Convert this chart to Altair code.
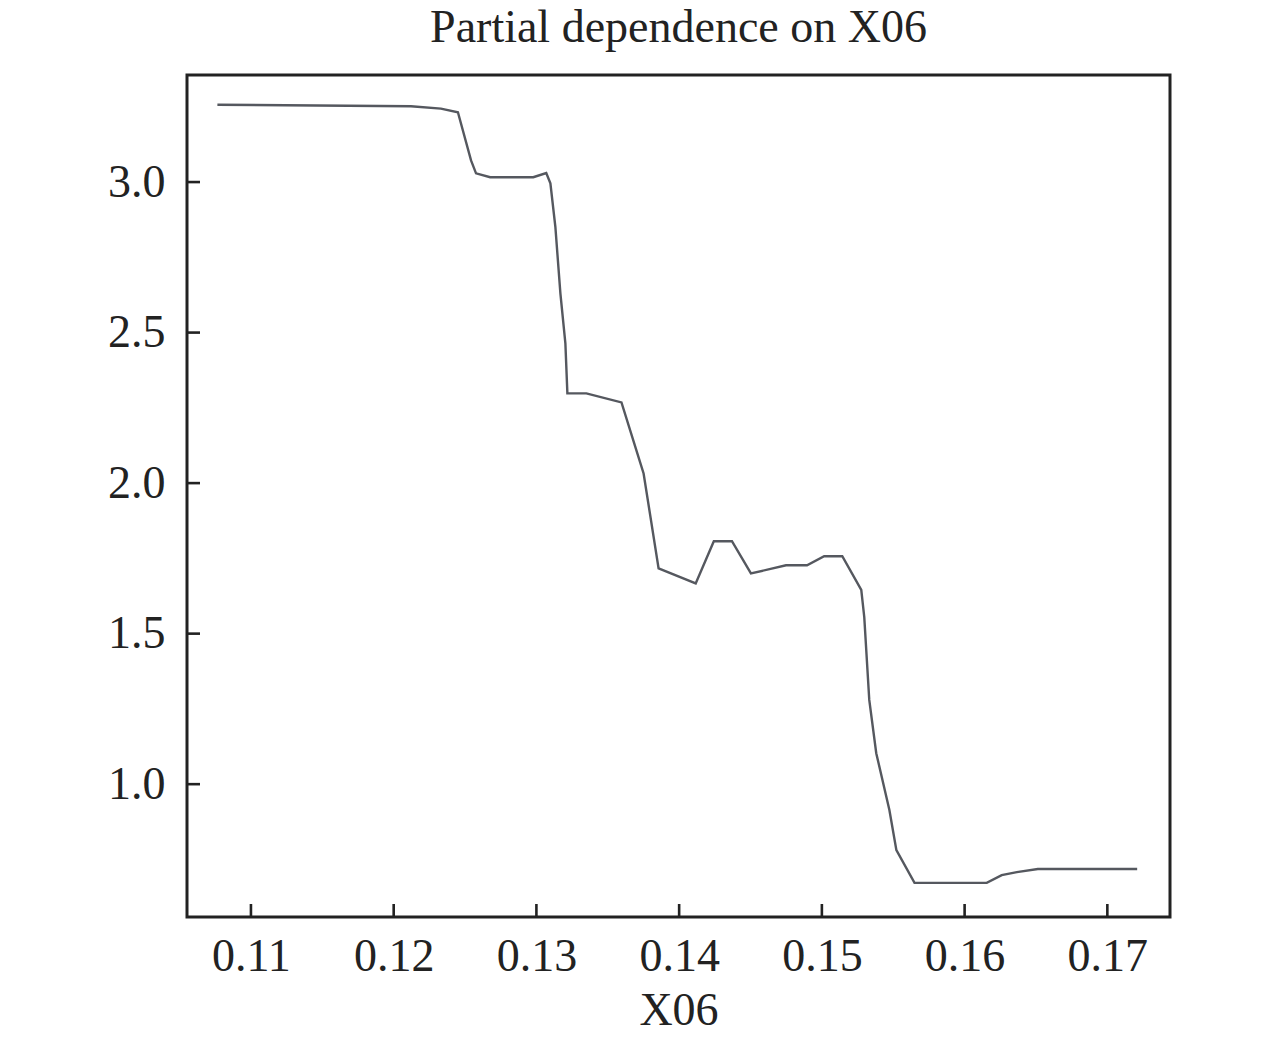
import altair as alt
import pandas as pd

x06 = [0.10765, 0.12121, 0.12331, 0.12450, 0.12542, 0.12577, 0.12676, 0.12978,
       0.13069, 0.13098, 0.13133, 0.13168, 0.13203, 0.13217, 0.13350, 0.13596,
       0.13694, 0.13751, 0.13856, 0.14116, 0.14243, 0.14370, 0.14503, 0.14749,
       0.14896, 0.15016, 0.15143, 0.15276, 0.15297, 0.15332, 0.15381, 0.15473,
       0.15522, 0.15649, 0.16155, 0.16260, 0.16366, 0.16513, 0.17209]
pdep = [3.257, 3.252, 3.244, 3.232, 3.072, 3.029, 3.016, 3.016,
        3.030, 2.996, 2.850, 2.630, 2.464, 2.298, 2.298, 2.268,
        2.119, 2.032, 1.717, 1.667, 1.807, 1.807, 1.700, 1.727,
        1.727, 1.757, 1.757, 1.645, 1.555, 1.280, 1.103, 0.914,
        0.781, 0.672, 0.672, 0.698, 0.708, 0.718, 0.718]

x_ticks = [0.11, 0.12, 0.13, 0.14, 0.15, 0.16, 0.17]
y_ticks = [1.0, 1.5, 2.0, 2.5, 3.0]

W, H = 983, 842
FONT = "Liberation Serif"
INK = "#222222"

df = pd.DataFrame({"x": x06, "y": pdep})
xt = pd.DataFrame({"x": x_ticks})
yt = pd.DataFrame({"y": y_ticks})

xscale = alt.Scale(domain=[0.10552, 0.17439], nice=False, zero=False)
yscale = alt.Scale(domain=[0.5588, 3.3556], nice=False, zero=False)

line = alt.Chart(df).mark_line(color="#55585f", strokeWidth=2.4).encode(
    x=alt.X("x:Q", scale=xscale, title="X06",
            axis=alt.Axis(values=x_ticks, format=".2f", ticks=False, tickSize=0,
                          domain=False, grid=False, labelFont=FONT, labelFontSize=46,
                          labelColor=INK, labelPadding=17, labelFlush=False,
                          titleFont=FONT, titleFontSize=46, titleFontWeight="normal",
                          titleColor=INK, titleBaseline="alphabetic", titleY=107)),
    y=alt.Y("y:Q", scale=yscale, title=None,
            axis=alt.Axis(values=y_ticks, format=".1f", ticks=False, tickSize=0,
                          domain=False, grid=False, labelFont=FONT, labelFontSize=46,
                          labelColor=INK, labelPadding=22, labelFlush=False)),
)

xtick_marks = alt.Chart(xt).mark_rule(color=INK, strokeWidth=2.6).encode(
    x=alt.X("x:Q", scale=xscale),
    y=alt.value(H),
    y2=alt.value(H - 13),
)

ytick_marks = alt.Chart(yt).mark_rule(color=INK, strokeWidth=2.6).encode(
    y=alt.Y("y:Q", scale=yscale),
    x=alt.value(0),
    x2=alt.value(13),
)

chart = alt.layer(line, xtick_marks, ytick_marks).properties(
    width=W,
    height=H,
    title=alt.TitleParams("Partial dependence on X06", font=FONT, fontSize=46,
                          fontWeight="normal", color=INK, anchor="middle",
                          baseline="alphabetic", offset=23, dy=36),
    autosize=alt.AutoSizeParams(type="none"),
    padding={"left": 179, "top": 67, "right": 94, "bottom": 120},
).configure(background="white").configure_view(stroke=INK, strokeWidth=3)

chart.save("out.html", embed_options={"renderer": "svg", "actions": False})
